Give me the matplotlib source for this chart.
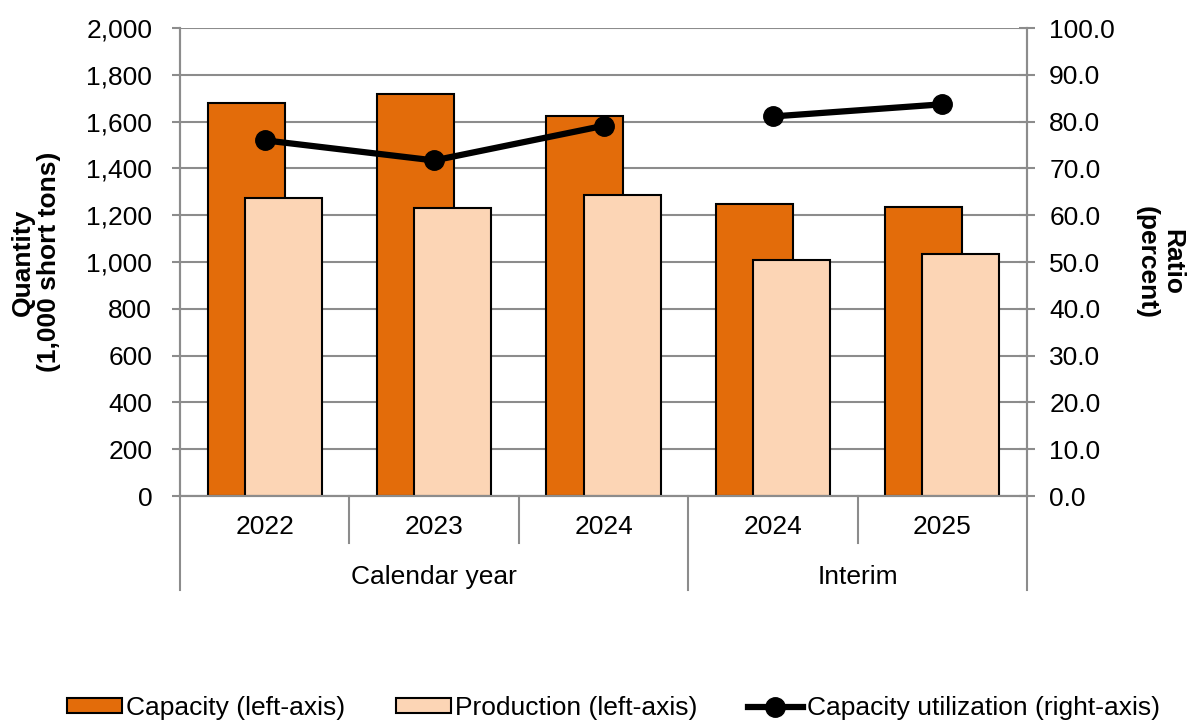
import numpy as np
import matplotlib.pyplot as plt
from matplotlib.patches import Patch
from matplotlib.lines import Line2D

plt.rcParams['font.family'] = ['Liberation Sans', 'DejaVu Sans']

years = ['2022', '2023', '2024', '2024', '2025']
periods = ['Calendar year', 'Interim']
capacity = [1678, 1718, 1625, 1246, 1235]
production = [1275, 1231, 1285, 1010, 1034]
utilization = [76.0, 71.7, 79.1, 81.1, 83.7]

CAP_COLOR = '#E36C0A'
PROD_COLOR = '#FCD5B5'
GRID = '#8C8C8C'
FS = 19

fig = plt.figure(figsize=(11.97, 7.22), dpi=100)
ax = fig.add_axes([180 / 1197, 1 - 496 / 722, 847 / 1197, 468 / 722])
ax2 = ax.twinx()

x = np.arange(len(years))
w = 0.455
ax.bar(x - 0.11, capacity, w, color=CAP_COLOR, edgecolor='black', linewidth=1.5, zorder=2)
ax.bar(x + 0.11, production, w, color=PROD_COLOR, edgecolor='black', linewidth=1.5, zorder=3)

# utilization line is broken between the calendar and interim periods
for seg in (slice(0, 3), slice(3, 5)):
    ax2.plot(x[seg], utilization[seg], color='black', lw=4.5, marker='o', ms=14, zorder=5)

ax.set_xlim(-0.5, 4.5)
ax.set_ylim(0, 2000)
ax.set_yticks(np.arange(0, 2001, 200))
ax.set_yticklabels([f'{v:,}' for v in range(0, 2001, 200)])
ax2.set_ylim(0, 100)
ax2.set_yticks(np.arange(0, 101, 10))
ax2.set_yticklabels([f'{v:.1f}' for v in range(0, 101, 10)])

ax.yaxis.grid(True, color=GRID, lw=1.5, zorder=0)
ax.set_axisbelow(True)
ax.set_xticks([])
for a in (ax, ax2):
    a.spines['top'].set_visible(False)
    for s in ('left', 'right', 'bottom'):
        a.spines[s].set_color(GRID)
        a.spines[s].set_linewidth(1.5)
ax.tick_params(axis='y', labelsize=FS, colors=GRID, labelcolor='black',
               length=6, width=1.5, pad=14)
ax2.tick_params(axis='y', labelsize=FS, colors=GRID, labelcolor='black',
                direction='inout', length=12, width=1.5, pad=10)
ax.tick_params(axis='x', length=0)

ax.set_ylabel('Quantity\n(1,000 short tons)', fontsize=FS, fontweight='bold', labelpad=18,
              linespacing=1.1)
ax2.set_ylabel('Ratio\n(percent)', fontsize=FS, fontweight='bold', rotation=270,
               labelpad=14, va='bottom', linespacing=1.1)

# two-level category axis
trans = ax.get_xaxis_transform()
for i, yr in enumerate(years):
    ax.text(i, -0.066, yr, transform=trans, ha='center', va='center', fontsize=FS)
ax.text(1, -0.174, periods[0], transform=trans, ha='center', va='center', fontsize=FS)
ax.text(3.5, -0.174, periods[1], transform=trans, ha='center', va='center', fontsize=FS)
for xb in (0.5, 1.5, 3.5):
    ax.add_line(Line2D([xb, xb], [0, -0.1], transform=trans, color=GRID, lw=1.5, clip_on=False))
for xb in (-0.5, 2.5, 4.5):
    ax.add_line(Line2D([xb, xb], [0, -0.2], transform=trans, color=GRID, lw=1.5, clip_on=False))

handles = [
    Patch(facecolor=CAP_COLOR, edgecolor='black', linewidth=1.5, label='Capacity (left-axis)'),
    Patch(facecolor=PROD_COLOR, edgecolor='black', linewidth=1.5, label='Production (left-axis)'),
    Line2D([], [], color='black', lw=4.5, marker='o', ms=14, label='Capacity utilization (right-axis)'),
]
fig.legend(handles=handles, loc='center', bbox_to_anchor=(0.5125, 1 - 708 / 722), ncol=3,
           frameon=False, fontsize=FS, handlelength=2.1, handleheight=0.5,
           handletextpad=0.15, columnspacing=1.9)

fig.savefig('out.png', dpi=100)
plt.close()
